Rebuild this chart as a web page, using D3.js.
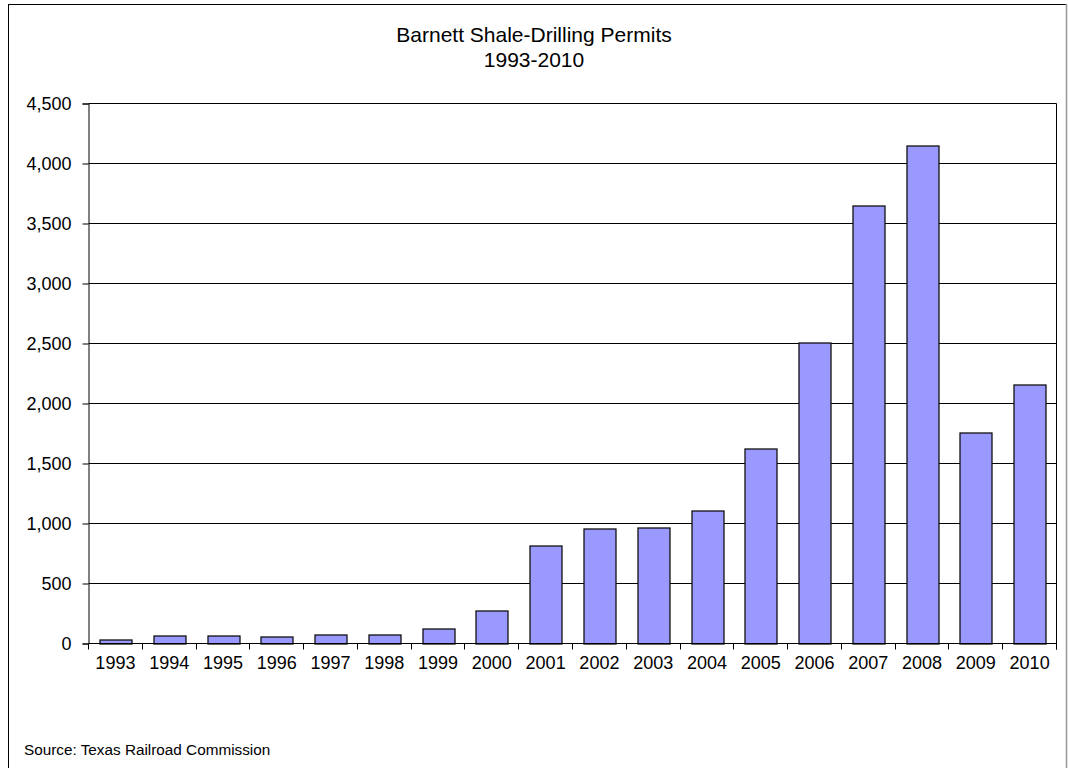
<!DOCTYPE html>
<html>
    <head>
        <meta charset="utf-8">
        <style>
          body { margin: 0; background: #fff; }
          text { font-family: "Liberation Sans", Arial, sans-serif; fill: #000; }
        </style>
    </head>
    <body>
        <svg width="1068" height="768"></svg>
        <script src="https://d3js.org/d3.v7.min.js"></script>
        <script>
          // data
          var years = ["1993", "1994", "1995", "1996", "1997", "1998", "1999", "2000", "2001",
                       "2002", "2003", "2004", "2005", "2006", "2007", "2008", "2009", "2010"];
          var permits = [36, 64, 66, 58, 75, 75, 127, 273, 814,
                         956, 970, 1108, 1628, 2505, 3647, 4153, 1756, 2158];
          var yTicks = [0, 500, 1000, 1500, 2000, 2500, 3000, 3500, 4000, 4500];
          var titleLines = ["Barnett Shale-Drilling Permits", "1993-2010"];
          var sourceText = "Source: Texas Railroad Commission";

          var data = years.map(function(y, i) { return {year: y, value: permits[i]}; });

          var svg = d3.select("svg");
          var margin = {top: 103.5, left: 88.5};
          var width = 968;
          var height = 540;

          // outer frame
          svg.append("rect")
            .attr("x", 8.5).attr("y", 4.5)
            .attr("width", 1058).attr("height", 800)
            .attr("fill", "none")
            .attr("stroke", "#000");
          svg.append("line")
            .attr("x1", 1066.5).attr("x2", 1066.5)
            .attr("y1", 4).attr("y2", 768)
            .attr("stroke", "#999").attr("stroke-width", 1.5);

          // title
          svg.selectAll(".title")
            .data(titleLines)
            .enter().append("text")
            .attr("class", "title")
            .attr("x", 534)
            .attr("y", function(d, i) { return 42 + i * 25; })
            .attr("text-anchor", "middle")
            .style("font-size", "21px")
            .text(function(d) { return d; });

          var chart = svg.append("g")
              .attr("transform", "translate(" + margin.left + "," + margin.top + ")");

          var x = d3.scaleBand()
            .domain(years)
            .range([0, width])
            .paddingInner(0.41)
            .paddingOuter(0.205);

          var y = d3.scaleLinear()
            .domain([0, 4500])
            .range([height, 0]);

          // gridlines
          chart.selectAll(".grid")
            .data(yTicks.slice(1))
            .enter().append("line")
            .attr("x1", 0).attr("x2", width)
            .attr("y1", function(d) { return y(d); })
            .attr("y2", function(d) { return y(d); })
            .attr("stroke", "#000")
            .attr("stroke-width", 1);

          // right border of plot area
          chart.append("line")
            .attr("x1", width).attr("x2", width)
            .attr("y1", 0).attr("y2", height + 6)
            .attr("stroke", "#000");

          // bars
          chart.selectAll(".bar")
            .data(data)
            .enter().append("rect")
            .attr("class", "bar")
            .attr("x", function(d) { return Math.round(x(d.year)) + 0.5; })
            .attr("y", function(d) { return Math.round(y(d.value)) + 0.5; })
            .attr("width", Math.round(x.bandwidth()))
            .attr("height", function(d) { return height - Math.round(y(d.value)); })
            .attr("fill", "#9999ff")
            .attr("stroke", "#111")
            .attr("stroke-width", 1.3);

          // y axis
          var yAxis = d3.axisLeft(y)
            .tickValues(yTicks)
            .tickSize(6)
            .tickPadding(11)
            .tickFormat(d3.format(","));

          var ya = chart.append("g").call(yAxis);
          ya.select(".domain").attr("stroke", "#000");
          ya.selectAll("text")
            .style("font-size", "18px")
            .style("font-family", "Liberation Sans, Arial, sans-serif");

          // x axis: labels centred, ticks between categories
          var xAxis = d3.axisBottom(x).tickSize(0).tickPadding(13);
          var xa = chart.append("g")
            .attr("transform", "translate(0," + height + ")")
            .call(xAxis);
          xa.select(".domain").remove();
          xa.selectAll("text")
            .style("font-size", "18px")
            .style("font-family", "Liberation Sans, Arial, sans-serif");

          chart.append("line")
            .attr("x1", 0).attr("x2", width)
            .attr("y1", height).attr("y2", height)
            .attr("stroke", "#000");

          var step = width / years.length;
          chart.selectAll(".xtick")
            .data(d3.range(years.length + 1))
            .enter().append("line")
            .attr("x1", function(i) { return Math.round(i * step); })
            .attr("x2", function(i) { return Math.round(i * step); })
            .attr("y1", height)
            .attr("y2", height + 6)
            .attr("stroke", "#000");

          // source note
          svg.append("text")
            .attr("x", 24)
            .attr("y", 755)
            .style("font-size", "15.3px")
            .text(sourceText);
        </script>
    </body>
</html>
